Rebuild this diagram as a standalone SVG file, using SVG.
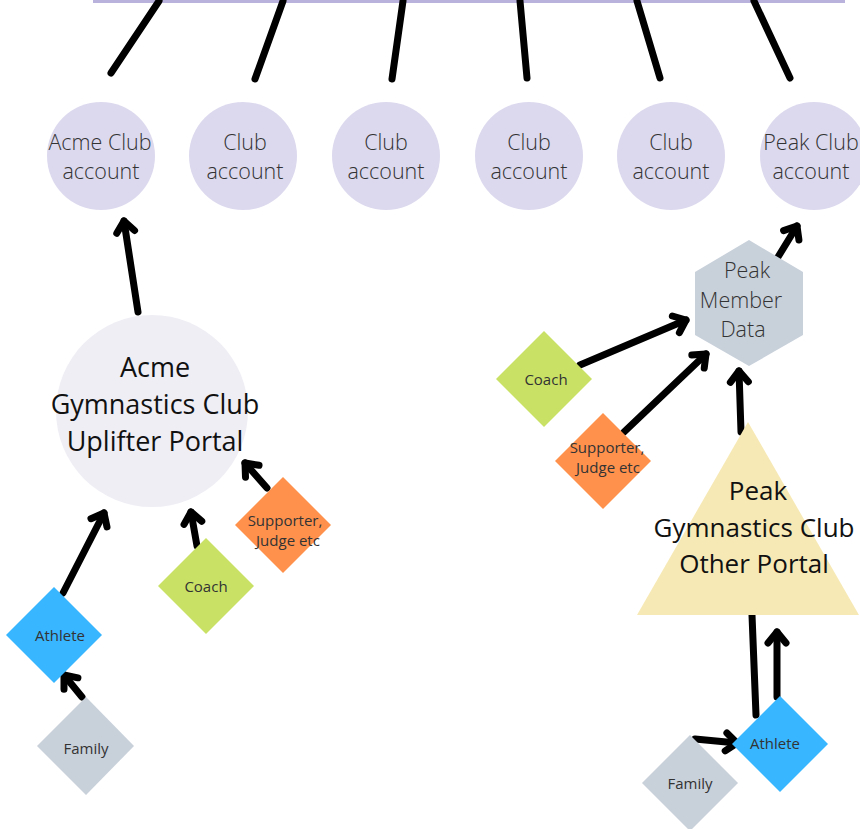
<svg xmlns="http://www.w3.org/2000/svg" width="860" height="829" viewBox="0 0 860 829">
<style>
.edge{stroke:#000;stroke-width:7;stroke-linecap:round;fill:none}
.arr{marker-end:url(#chev)}
text{font-family:"Open Sans","Noto Sans","Liberation Sans",sans-serif;text-anchor:middle}
.acct{font-size:21.5px;fill:#333;font-weight:300}
.big{font-size:27px;fill:#111}
.tri{font-size:26px;fill:#111}
.mid{font-size:21.5px;fill:#333;font-weight:300}
.sm{font-size:15px;fill:#333}
.acctc{fill:#dcd9ee}
</style>
<defs>
<marker id="chev" markerUnits="userSpaceOnUse" viewBox="-20 -20 40 40" markerWidth="40" markerHeight="40" refX="0" refY="0" orient="auto" overflow="visible">
<path d="M-11,-9 L0,0 L-11,9" fill="none" stroke="#000" stroke-width="7" stroke-linecap="round" stroke-linejoin="round"/>
</marker>
</defs>
<rect width="860" height="829" fill="#fff"/>
<rect x="93" y="0" width="752" height="3" fill="#b8b2dc"/>
<g id="connectors">
<line class="edge" x1="159" y1="1" x2="111" y2="73"/>
<line class="edge" x1="283" y1="1" x2="255" y2="79"/>
<line class="edge" x1="403" y1="1" x2="392" y2="79"/>
<line class="edge" x1="520" y1="1" x2="527" y2="78"/>
<line class="edge" x1="637" y1="1" x2="660" y2="78"/>
<line class="edge" x1="754" y1="1" x2="790" y2="78"/>
<line class="edge arr" x1="138" y1="312" x2="124" y2="221"/>
<line class="edge arr" x1="63" y1="593" x2="104" y2="513"/>
<line class="edge arr" x1="197" y1="546" x2="191" y2="512"/>
<line class="edge arr" x1="267" y1="488" x2="245" y2="463"/>
<line class="edge arr" x1="82" y1="697" x2="64" y2="675"/>
<line class="edge arr" x1="778" y1="257" x2="797" y2="226"/>
<line class="edge arr" x1="580" y1="365" x2="686" y2="320"/>
<line class="edge arr" x1="624" y1="432" x2="706" y2="354"/>
<line class="edge arr" x1="741" y1="432" x2="739" y2="371"/>
<line class="edge arr" x1="777" y1="697" x2="777" y2="632"/>
<line class="edge" x1="752" y1="615" x2="756" y2="715"/>
<line class="edge arr" x1="695" y1="739" x2="737" y2="743"/>
</g>
<g id="acct1"><circle class="acctc" cx="101" cy="156" r="54"/><text class="acct" x="100" y="150">Acme Club</text><text class="acct" x="101" y="179">account</text></g>
<g id="acct2"><circle class="acctc" cx="243" cy="156" r="54"/><text class="acct" x="245" y="150">Club</text><text class="acct" x="245" y="179">account</text></g>
<g id="acct3"><circle class="acctc" cx="386" cy="156" r="54"/><text class="acct" x="386" y="150">Club</text><text class="acct" x="386" y="179">account</text></g>
<g id="acct4"><circle class="acctc" cx="529" cy="156" r="54"/><text class="acct" x="529" y="150">Club</text><text class="acct" x="529" y="179">account</text></g>
<g id="acct5"><circle class="acctc" cx="671" cy="156" r="54"/><text class="acct" x="671" y="150">Club</text><text class="acct" x="671" y="179">account</text></g>
<g id="acct6"><circle class="acctc" cx="814" cy="156" r="54"/><text class="acct" x="811" y="150">Peak Club</text><text class="acct" x="811" y="179">account</text></g>
<g id="acmePortal"><circle cx="152" cy="411" r="96" fill="#efeef5"/><text class="big" x="155" y="377">Acme</text><text class="big" x="155" y="414">Gymnastics Club</text><text class="big" x="155" y="451">Uplifter Portal</text></g>
<g id="athleteL"><polygon points="54,587 102,635 54,683 6,635" fill="#38b6ff"/><text class="sm" x="60" y="641">Athlete</text></g>
<g id="familyL"><polygon points="86,697 134,746 86,795 37,746" fill="#c8d0da"/><text class="sm" x="86" y="754">Family</text></g>
<g id="coachL"><polygon points="206,538 254,586 206,634 158,586" fill="#c9e265"/><text class="sm" x="206" y="592">Coach</text></g>
<g id="supporterL"><polygon points="283,477 331,525 283,573 235,525" fill="#ff914d"/><text class="sm" x="285" y="526">Supporter,</text><text class="sm" x="288" y="546">Judge etc</text></g>
<g id="peakData"><polygon points="749,240 803,272 803,335 749,366 695,335 695,272" fill="#c8d0da"/><text class="mid" x="747" y="278">Peak</text><text class="mid" x="741" y="308">Member</text><text class="mid" x="743" y="337">Data</text></g>
<g id="coachR"><polygon points="544,331 592,379 544,427 496,379" fill="#c9e265"/><text class="sm" x="546" y="385">Coach</text></g>
<g id="supporterR"><polygon points="603,413 651,461 603,509 555,461" fill="#ff914d"/><text class="sm" x="607" y="453">Supporter,</text><text class="sm" x="608" y="473">Judge etc</text></g>
<g id="peakPortal"><polygon points="748,422 859,615 637,615" fill="#f7e9b5"/><text class="tri" x="758" y="500">Peak</text><text class="tri" x="754" y="537">Gymnastics Club</text><text class="tri" x="754" y="573">Other Portal</text></g>
<g id="athleteR"><polygon points="780,696 828,744 780,792 732,744" fill="#38b6ff"/><text class="sm" x="775" y="749">Athlete</text></g>
<g id="familyR"><polygon points="690,735 738,783 690,831 642,783" fill="#c8d0da"/><text class="sm" x="690" y="789">Family</text></g>
</svg>
